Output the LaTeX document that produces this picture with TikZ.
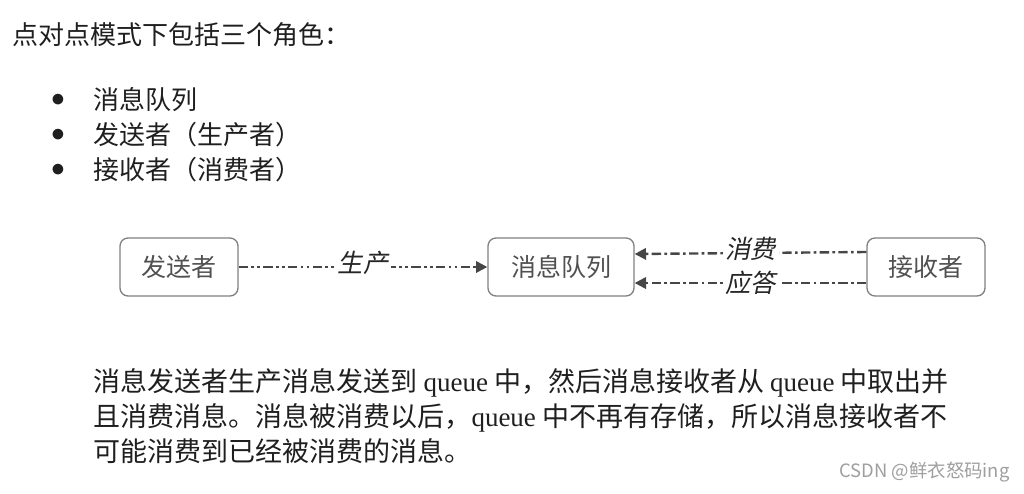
\documentclass[tikz,border=0pt]{standalone}
\usepackage{fontspec}
\setmainfont{Noto Sans CJK SC}
\newfontfamily\latin{Liberation Serif}
\newfontfamily\cjkit[FakeSlant=0.2]{Noto Sans CJK SC}
\usetikzlibrary{arrows.meta,calc}

\definecolor{boxgray}{RGB}{128,128,128}
\definecolor{linegray}{RGB}{70,70,70}
\definecolor{txtgray}{RGB}{80,80,80}

\tikzset{every picture/.style={line width=0.75pt}}
\tikzset{
  rolebox/.style={draw=boxgray, line width=1pt, rounded corners=6pt, minimum width=88.5pt, minimum height=43.5pt, inner sep=0pt, text=txtgray, font=\fontsize{18.75}{20}\selectfont},
  dashdotdot/.style={draw=linegray, line width=1.8pt, dash pattern=on 7pt off 2.5pt on 2pt off 2.5pt on 2pt off 2.5pt, -{Triangle[length=8.5pt,width=8.5pt]}},
  dashdot/.style={draw=linegray, line width=1.8pt, dash pattern=on 7pt off 2.5pt on 2pt off 2.5pt, -{Triangle[length=8.5pt,width=8.5pt]}},
  arrowlbl/.style={fill=white, inner sep=2pt, text=black!85, font=\cjkit\fontsize{19}{20}\selectfont},
  bodytxt/.style={inner sep=0pt, text=black!88, font=\fontsize{19.5}{22}\selectfont}
}

\begin{document}
\begin{tikzpicture}[x=0.75pt,y=0.75pt,yscale=-1,xscale=1]
\path[use as bounding box] (0,0) rectangle (1024,493);

% Text Node
\draw (12,35) node [anchor=west][bodytxt] (title) {点对点模式下包括三个角色：};

% Bullets
\draw (58,100) node [bodytxt] (b1) {$\bullet$};
\draw (58,135) node [bodytxt] (b2) {$\bullet$};
\draw (58,170) node [bodytxt] (b3) {$\bullet$};
\draw (93,100) node [anchor=west][bodytxt] (item1) {消息队列};
\draw (93,135) node [anchor=west][bodytxt] (item2) {发送者（生产者）};
\draw (93,170) node [anchor=west][bodytxt] (item3) {接收者（消费者）};

% Roles
\draw (179,267) node [rolebox] (sender) {发送者};
\draw (561,267) node [rolebox, minimum width=109.5pt] (queue) {消息队列};
\draw (926,267) node [rolebox] (receiver) {接收者};

% Connectors
\draw [dashdotdot] (sender) -- (queue) node [midway, yshift=3pt, arrowlbl] (produce) {生产};
\draw [dashdot] ($(receiver.west)+(0,-15)$) -- ($(queue.east)+(0,-13)$) node [midway, yshift=3pt, arrowlbl] (consume) {消费};
\draw [dashdot] ($(receiver.west)+(0,16)$) -- ($(queue.east)+(0,16)$) node [midway, arrowlbl] (ack) {应答};

% Text Node
\draw (93,381) node [anchor=north west, yshift=9.5pt][bodytxt, align=left, font=\fontsize{20.25}{26.25}\selectfont] (desc) {消息发送者生产消息发送到 {\latin queue} 中，然后消息接收者从 {\latin queue} 中取出并\\且消费消息。消息被消费以后，{\latin queue} 中不再有存储，所以消息接收者不\\可能消费到已经被消费的消息。};

% Watermark
\draw (1010,472) node [anchor=east][inner sep=0pt, text=black!38, font=\fontsize{13.8}{14}\selectfont] (mark) {CSDN @鲜衣怒码ing};

\end{tikzpicture}
\end{document}
